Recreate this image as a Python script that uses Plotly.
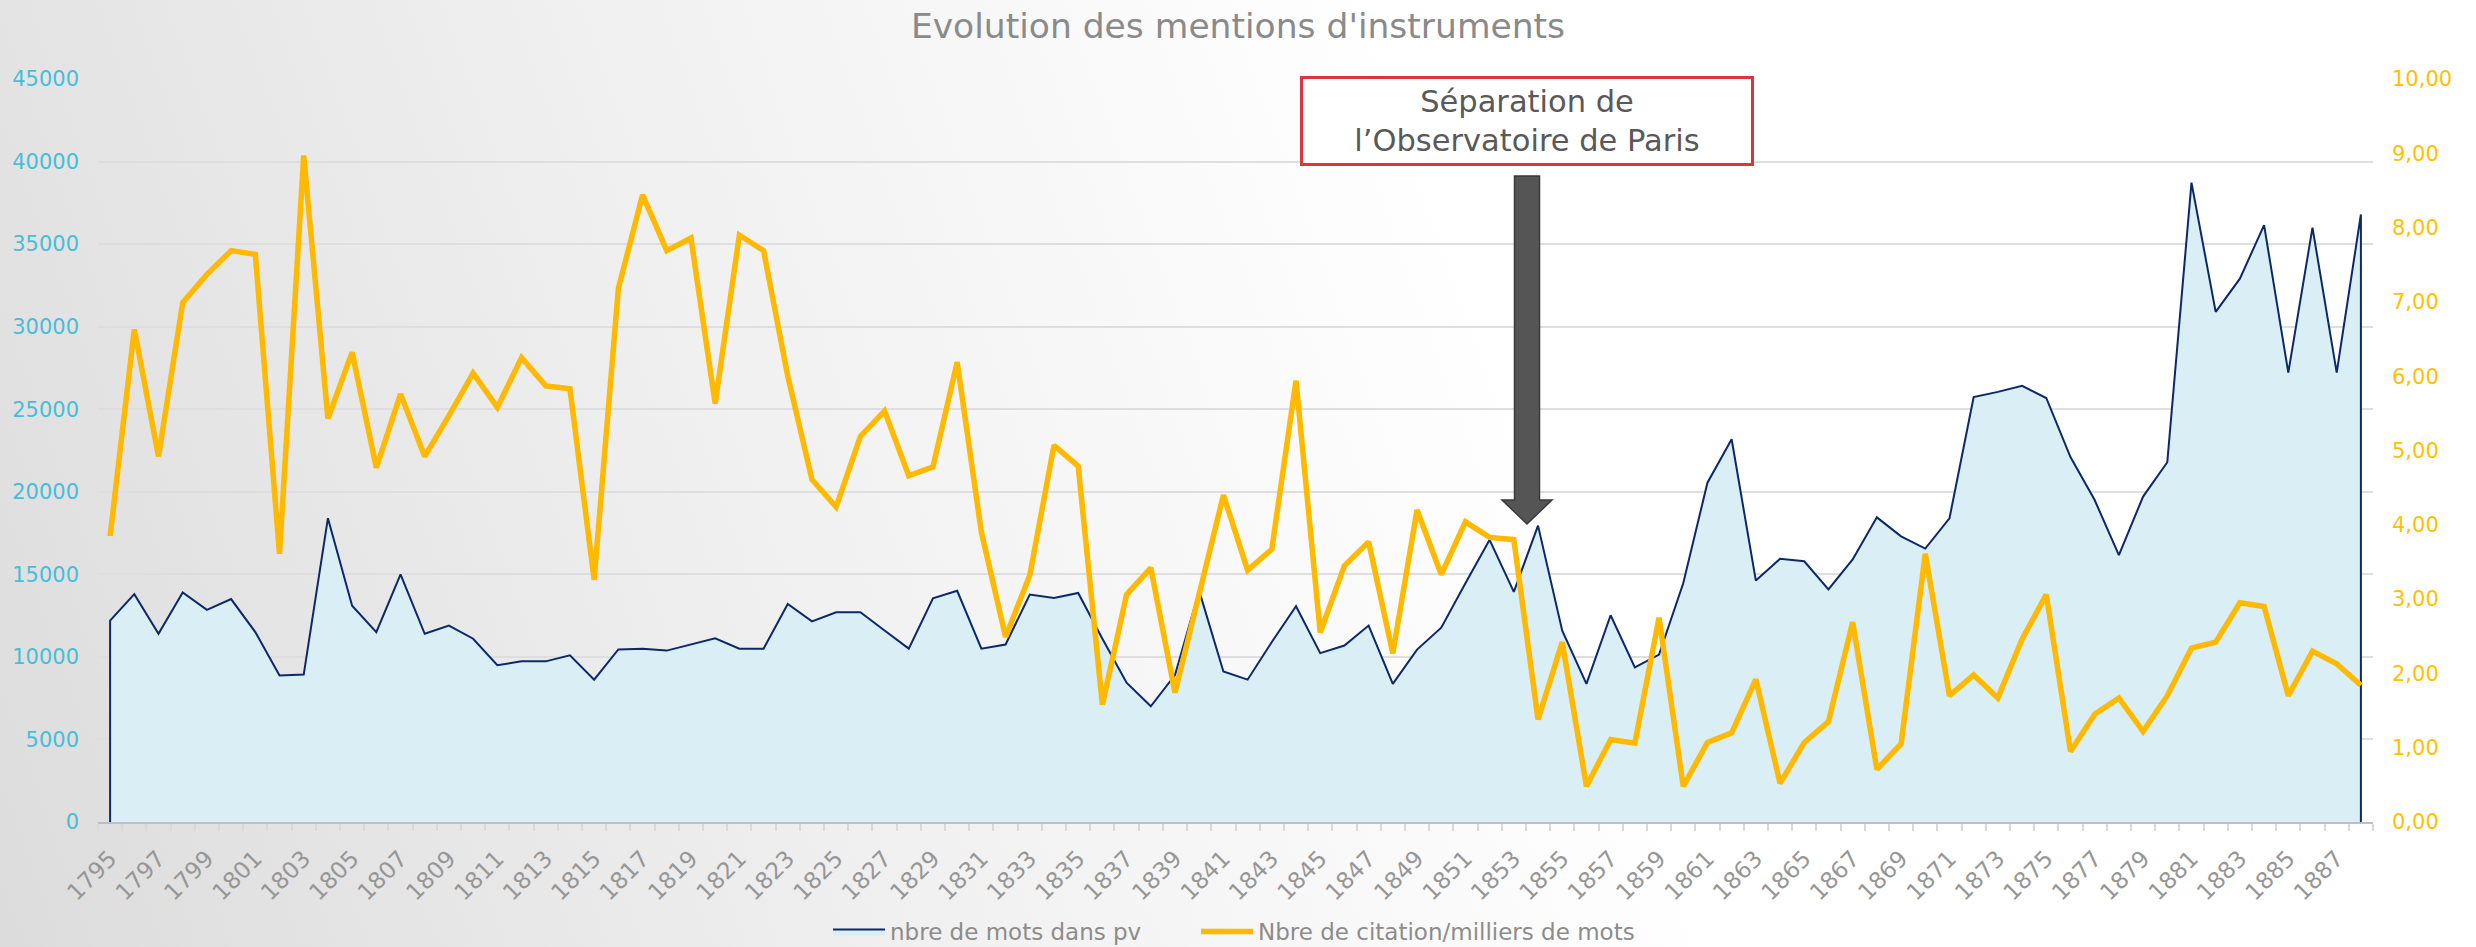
import base64
import plotly.graph_objects as go

# ---------------- data ----------------
years = list(range(1795, 1889))

mots = [
    12200, 13800, 11400, 13900, 12850, 13500, 11500, 8870, 8930, 18400,   # 1795-1804
    13100, 11500, 15000, 11400, 11900, 11100, 9500, 9730, 9730, 10100,    # 1805-1814
    8620, 10450, 10500, 10380, 10750, 11120, 10500, 10500, 13200, 12150,  # 1815-1824
    12700, 12700, 11600, 10500, 13550, 14000, 10500, 10750, 13780, 13570, # 1825-1834
    13870, 11100, 8440, 7010, 8900, 14000, 9120, 8620, 10900, 13070,      # 1835-1844
    10230, 10690, 11900, 8370, 10440, 11770, 14460, 17090, 13940, 17950,  # 1845-1854
    11590, 8370, 12520, 9360, 10140, 14460, 20550, 23180, 14620, 15940,   # 1855-1864
    15790, 14090, 15900, 18450, 17300, 16560, 18390, 25740, 26050, 26420, # 1865-1874
    25680, 22100, 19500, 16160, 19710, 21790, 38720, 30900, 32910, 36150, # 1875-1884
    27220, 36000, 27220, 36800,                                           # 1885-1888
]

citations = [
    3.85, 6.63, 4.92, 6.99, 7.37, 7.69, 7.64, 3.61, 8.97, 5.43,   # 1795-1804
    6.32, 4.77, 5.76, 4.92, 5.47, 6.04, 5.58, 6.25, 5.87, 5.83,   # 1805-1814
    3.26, 7.18, 8.44, 7.69, 7.86, 5.63, 7.90, 7.69, 6.00, 4.61,   # 1815-1824
    4.24, 5.19, 5.53, 4.66, 4.78, 6.19, 3.90, 2.49, 3.32, 5.07,   # 1825-1834
    4.79, 1.58, 3.06, 3.42, 1.74, 3.07, 4.40, 3.39, 3.67, 5.94,   # 1835-1844
    2.55, 3.45, 3.77, 2.27, 4.20, 3.33, 4.04, 3.83, 3.80, 1.38,   # 1845-1854
    2.42, 0.48, 1.11, 1.06, 2.75, 0.48, 1.07, 1.20, 1.92, 0.52,   # 1855-1864
    1.07, 1.35, 2.69, 0.71, 1.05, 3.61, 1.70, 1.98, 1.67, 2.46,   # 1865-1874
    3.06, 0.95, 1.45, 1.67, 1.22, 1.70, 2.34, 2.42, 2.95, 2.90,   # 1875-1884
    1.70, 2.30, 2.13, 1.84,                                       # 1885-1888
]

title_text = "Evolution des mentions d'instruments"
name_area = "nbre de mots dans pv"
name_line = "Nbre de citation/milliers de mots"
note_text = "Séparation de<br>l’Observatoire de Paris"

# ---------------- styling ----------------
W, H = 2476, 947
ML, MR, MT, MB = 98, 103, 79, 125
PW, PH = W - ML - MR, H - MT - MB
FONT = "DejaVu Sans"

def px_to_paper_x(px):
    return (px - ML) / PW

def px_to_paper_y(py):
    return (H - MB - py) / PH

# background gradient (grey bottom-left -> white right)
svg = f'''<svg xmlns="http://www.w3.org/2000/svg" width="{W}" height="{H}" viewBox="0 0 {W} {H}" preserveAspectRatio="none">
<defs><linearGradient id="g" gradientUnits="userSpaceOnUse" x1="0" y1="{H}" x2="1800" y2="300">
<stop offset="0" stop-color="#dcdcdc"/><stop offset="0.45" stop-color="#f0f0f0"/><stop offset="0.85" stop-color="#ffffff"/>
</linearGradient></defs><rect x="0" y="0" width="{W}" height="{H}" fill="url(#g)"/></svg>'''
bg_src = "data:image/svg+xml;base64," + base64.b64encode(svg.encode()).decode()

fig = go.Figure()

area_x = [years[0]] + years + [years[-1]]
area_y = [0] + mots + [0]
fig.add_trace(go.Scatter(
    x=area_x, y=area_y, name=name_area, mode="lines",
    line=dict(color="#0c2868", width=2),
    fill="tozeroy", fillcolor="#d9eef5",
    yaxis="y", legend="legend", showlegend=True,
))
fig.add_trace(go.Scatter(
    x=years, y=citations, name=name_line, mode="lines",
    line=dict(color="#ffb900", width=5.5),
    yaxis="y2", legend="legend2", showlegend=True,
))

legend_style = dict(
    orientation="h", xanchor="left",
    y=px_to_paper_y(910), yanchor="top",
    font=dict(family=FONT, size=23, color="#8c8c8c"),
    bgcolor="rgba(0,0,0,0)", itemwidth=52,
)

fig.update_layout(
    width=W, height=H,
    showlegend=True,
    margin=dict(l=ML, r=MR, t=MT, b=MB, autoexpand=False),
    paper_bgcolor="white",
    plot_bgcolor="rgba(0,0,0,0)",
    separators=", ",
    font=dict(family=FONT, color="#8c8c8c"),
    title=dict(
        text=title_text, x=0.5, xref="container", xanchor="center",
        y=1 - 26 / H, yref="container", yanchor="middle",
        font=dict(family=FONT, size=34.5, color="#8a8a8a"),
    ),
    xaxis=dict(
        range=[years[0] - 0.5, years[-1] + 0.5],
        tickmode="linear", tick0=years[0], dtick=2,
        ticks="", tickangle=-45,
        tickfont=dict(family=FONT, size=23, color="#969696"),
        ticklabelstandoff=12,
        showgrid=False, zeroline=False,
        showline=True, linecolor="#b9c0cc", linewidth=2,
        minor=dict(ticks="outside", tick0=years[0] - 0.5, dtick=1,
                   ticklen=7, tickwidth=2, tickcolor="#d9d9d9", showgrid=False),
    ),
    yaxis=dict(
        range=[0, 45000], tickmode="linear", tick0=0, dtick=5000,
        tickformat="d",
        tickfont=dict(family=FONT, size=21, color="#47bdd8"),
        showgrid=True, gridcolor="#dedede", gridwidth=1.5,
        zeroline=False, showline=False, ticks="",
        ticklabelstandoff=18,
    ),
    yaxis2=dict(
        range=[0, 10], tickmode="linear", tick0=0, dtick=1,
        tickformat=".2f",
        tickfont=dict(family=FONT, size=21, color="#ffc000"),
        overlaying="y", side="right",
        showgrid=False, zeroline=False, showline=False, ticks="",
        ticklabelstandoff=18,
    ),
    legend=dict(x=px_to_paper_x(828), visible=True, **legend_style),
    legend2=dict(x=px_to_paper_x(1196), visible=True, **legend_style),
    images=[dict(
        source=bg_src, xref="paper", yref="paper",
        x=px_to_paper_x(0), y=px_to_paper_y(0),
        sizex=W / PW, sizey=H / PH, sizing="stretch",
        xanchor="left", yanchor="top", layer="below",
    )],
)

# annotation box
cx = 1527
fig.add_annotation(
    text=note_text, xref="paper", yref="paper",
    x=px_to_paper_x(cx), y=px_to_paper_y(120.5),
    xanchor="center", yanchor="middle", showarrow=False,
    width=448, height=84, borderwidth=3, borderpad=0,
    bordercolor="#d9363e", bgcolor="white", align="center",
    font=dict(family=FONT, size=30.5, color="#595959"),
)

# block arrow (shape in pixel-derived paper coordinates)
shaft_half, head_half = 12.5, 25
top_y, head_y, tip_y = 176, 500, 524
pts = [
    (cx - shaft_half, top_y), (cx + shaft_half, top_y),
    (cx + shaft_half, head_y), (cx + head_half, head_y),
    (cx, tip_y), (cx - head_half, head_y), (cx - shaft_half, head_y),
]
path = "M " + " L ".join(f"{px_to_paper_x(x):.5f},{px_to_paper_y(y):.5f}" for x, y in pts) + " Z"
fig.add_shape(type="path", path=path, xref="paper", yref="paper",
              fillcolor="#555555", line=dict(color="#3a3a3a", width=1.5), layer="above")

fig.write_html(
    "out.html",
    config={"displayModeBar": False},
    post_script="document.body.style.margin='0px';document.body.style.overflow='hidden';",
)
